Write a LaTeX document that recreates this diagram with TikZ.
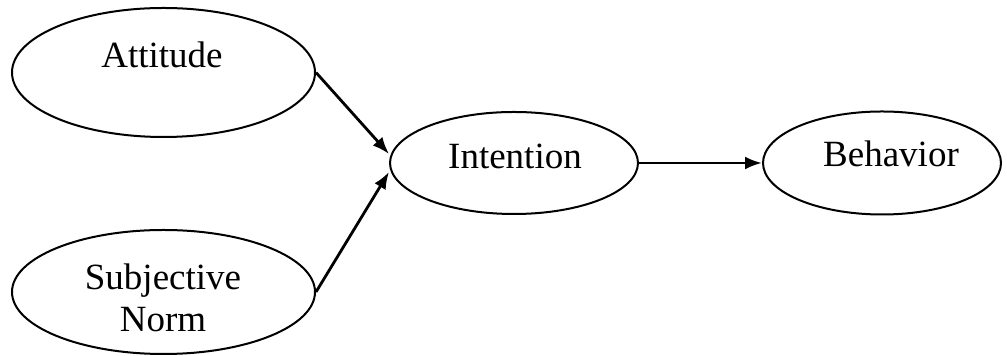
\documentclass[tikz,border=0pt]{standalone}
\usepackage{fontspec}
\setmainfont{Liberation Serif}
\usetikzlibrary{shapes.geometric,arrows.meta,calc}

\begin{document}
\begin{tikzpicture}[x=0.5pt,y=-0.5pt,
        oval/.style={draw,ellipse,line width=1pt,inner sep=0pt},
        lbl/.style={font=\fontsize{18.5}{21}\selectfont,inner sep=0pt,align=center},
        link/.style={-{Latex[length=8.5pt,width=6.5pt]},line width=1.4pt}]
                \useasboundingbox (0,0) rectangle (1007,356);
                \node[oval,minimum width=151.5pt,minimum height=64.5pt] (att) at (163.5,72.5) {};
                \node[oval,minimum width=151.5pt,minimum height=62pt] (sub) at (163.5,292) {};
                \node[oval,minimum width=124pt,minimum height=51pt] (int) at (514,163) {};
                \node[oval,minimum width=119pt,minimum height=51.5pt] (beh) at (882,163) {};
                \node[lbl] (att-txt) at (162,55) {Attitude};
                \node[lbl] (sub-txt) at (163,298) {Subjective\\Norm};
                \node[lbl] (int-txt) at (515,156) {Intention};
                \node[lbl] (beh-txt) at (891,154) {Behavior};
                \draw[link] (att.east) -- ([yshift=4.5pt]int.west);
                \draw[link] (sub.east) -- ([yshift=-4.5pt]int.west);
                \draw[link] (int.east) -- (beh.west);
            \end{tikzpicture}
\end{document}
